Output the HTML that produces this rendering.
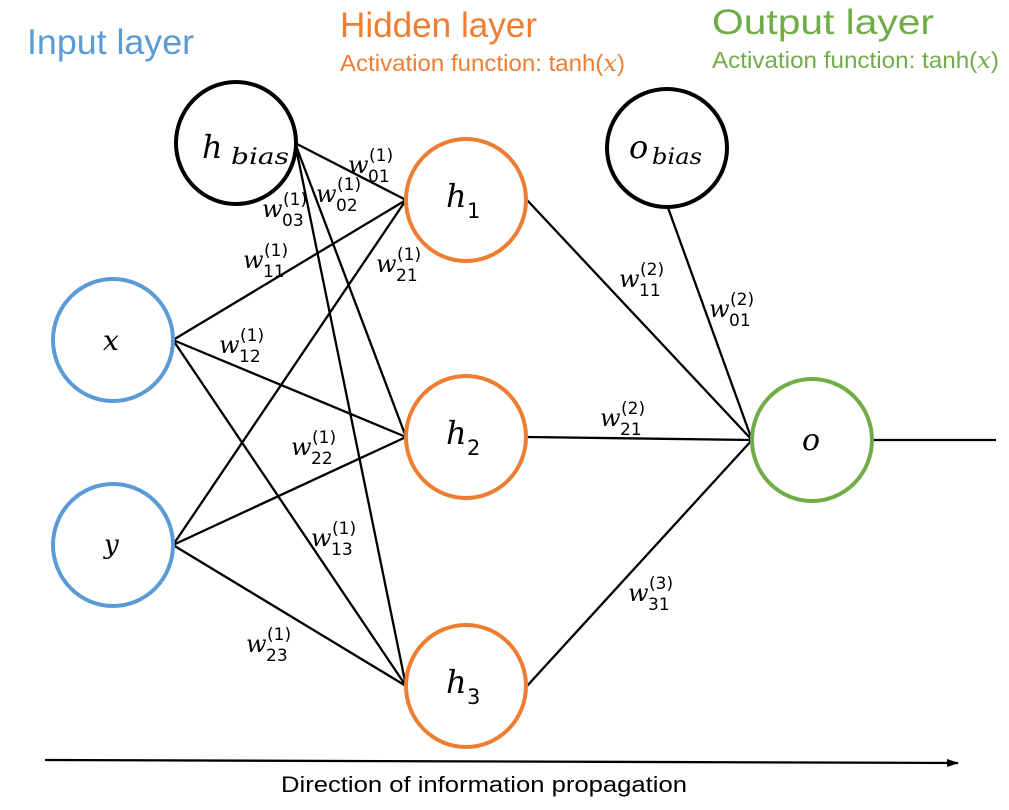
<!DOCTYPE html>
<html><head><meta charset="utf-8"><style>
html,body{margin:0;padding:0;background:#fff;}
svg{display:block;}
.t{font-family:"Liberation Sans",sans-serif;}
.m{font-family:"DejaVu Serif","Liberation Serif",serif;font-style:italic;}
.n{font-family:"DejaVu Sans","Liberation Sans",sans-serif;}
</style></head><body>
<svg width="1009" height="810" viewBox="0 0 1009 810" xmlns="http://www.w3.org/2000/svg">
<defs><marker id="ah" markerWidth="12" markerHeight="8" refX="11" refY="4" orient="auto" markerUnits="userSpaceOnUse"><path d="M0,0 L12,4 L0,8 z" fill="#000"/></marker></defs>
<text class="t" x="27" y="54" font-size="35" fill="#5b9bd5" textLength="167" lengthAdjust="spacingAndGlyphs">Input layer</text>
<text class="t" x="340" y="37" font-size="35" fill="#ed7d31" textLength="197" lengthAdjust="spacingAndGlyphs">Hidden layer</text>
<text class="t" x="340" y="71" font-size="23" fill="#ed7d31" textLength="285" lengthAdjust="spacingAndGlyphs">Activation function: tanh(<tspan class="m">x</tspan>)</text>
<text class="t" x="712" y="34" font-size="35" fill="#70ad47" textLength="222" lengthAdjust="spacingAndGlyphs">Output layer</text>
<text class="t" x="712" y="68" font-size="23" fill="#70ad47" textLength="287" lengthAdjust="spacingAndGlyphs">Activation function: tanh(<tspan class="m">x</tspan>)</text>
<g stroke="#000" stroke-width="2.3" fill="none">
<line x1="295" y1="143" x2="406" y2="200"/>
<line x1="295" y1="143" x2="406" y2="437"/>
<line x1="295" y1="143" x2="406" y2="686"/>
<line x1="173" y1="340" x2="406" y2="200"/>
<line x1="173" y1="340" x2="406" y2="437"/>
<line x1="173" y1="340" x2="406" y2="686"/>
<line x1="173" y1="545" x2="406" y2="200"/>
<line x1="173" y1="545" x2="406" y2="437"/>
<line x1="173" y1="545" x2="406" y2="686"/>
<line x1="527" y1="200" x2="752" y2="440"/>
<line x1="527" y1="437" x2="752" y2="440"/>
<line x1="527" y1="686" x2="752" y2="440"/>
<line x1="667" y1="205" x2="752" y2="440"/>
<line x1="872" y1="440" x2="996" y2="440"/>
<line x1="45" y1="760" x2="958" y2="763" marker-end="url(#ah)"/>
</g>
<g fill="#fff" stroke-width="4">
<ellipse cx="236" cy="143" rx="60" ry="61" stroke="#000"/>
<ellipse cx="667" cy="148" rx="60" ry="59" stroke="#000"/>
<ellipse cx="113" cy="340" rx="60" ry="61" stroke="#5b9bd5"/>
<ellipse cx="113" cy="545" rx="60" ry="61" stroke="#5b9bd5"/>
<ellipse cx="466" cy="200" rx="60" ry="61" stroke="#ed7d31"/>
<ellipse cx="466" cy="437" rx="60" ry="61" stroke="#ed7d31"/>
<ellipse cx="466" cy="686" rx="60" ry="61" stroke="#ed7d31"/>
<ellipse cx="812" cy="440" rx="60" ry="61" stroke="#70ad47"/>
</g>
<text class="m" x="202" y="158" font-size="32">h</text><text class="m" x="231" y="164" font-size="22" textLength="58" lengthAdjust="spacingAndGlyphs">bias</text>
<text class="m" x="629" y="158" font-size="32">o</text><text class="m" x="652" y="164" font-size="22" textLength="50" lengthAdjust="spacingAndGlyphs">bias</text>
<text class="m" x="103" y="350" font-size="28">x</text>
<text class="m" x="104" y="553" font-size="26">y</text>
<text class="m" x="446" y="207" font-size="32">h</text><text class="n" x="467" y="218" font-size="21">1</text>
<text class="m" x="446" y="444" font-size="32">h</text><text class="n" x="467" y="455" font-size="21">2</text>
<text class="m" x="446" y="693" font-size="32">h</text><text class="n" x="467" y="704" font-size="21">3</text>
<text class="m" x="802" y="450" font-size="30">o</text>
<g font-size="24">
<g transform="translate(348,173)"><text class="m" x="0" y="0">w</text><text class="n" x="21" y="-12" font-size="17">(1)</text><text class="n" x="20" y="9" font-size="17">01</text></g>
<g transform="translate(316,202)"><text class="m" x="0" y="0">w</text><text class="n" x="21" y="-12" font-size="17">(1)</text><text class="n" x="20" y="9" font-size="17">02</text></g>
<g transform="translate(262,217)"><text class="m" x="0" y="0">w</text><text class="n" x="21" y="-12" font-size="17">(1)</text><text class="n" x="20" y="9" font-size="17">03</text></g>
<g transform="translate(243,268)"><text class="m" x="0" y="0">w</text><text class="n" x="21" y="-12" font-size="17">(1)</text><text class="n" x="20" y="9" font-size="17">11</text></g>
<g transform="translate(376,272)"><text class="m" x="0" y="0">w</text><text class="n" x="21" y="-12" font-size="17">(1)</text><text class="n" x="20" y="9" font-size="17">21</text></g>
<g transform="translate(219,353)"><text class="m" x="0" y="0">w</text><text class="n" x="21" y="-12" font-size="17">(1)</text><text class="n" x="20" y="9" font-size="17">12</text></g>
<g transform="translate(291,455)"><text class="m" x="0" y="0">w</text><text class="n" x="21" y="-12" font-size="17">(1)</text><text class="n" x="20" y="9" font-size="17">22</text></g>
<g transform="translate(311,546)"><text class="m" x="0" y="0">w</text><text class="n" x="21" y="-12" font-size="17">(1)</text><text class="n" x="20" y="9" font-size="17">13</text></g>
<g transform="translate(246,652)"><text class="m" x="0" y="0">w</text><text class="n" x="21" y="-12" font-size="17">(1)</text><text class="n" x="20" y="9" font-size="17">23</text></g>
<g transform="translate(619,287)"><text class="m" x="0" y="0">w</text><text class="n" x="21" y="-12" font-size="17">(2)</text><text class="n" x="20" y="9" font-size="17">11</text></g>
<g transform="translate(709,317)"><text class="m" x="0" y="0">w</text><text class="n" x="21" y="-12" font-size="17">(2)</text><text class="n" x="20" y="9" font-size="17">01</text></g>
<g transform="translate(600,426)"><text class="m" x="0" y="0">w</text><text class="n" x="21" y="-12" font-size="17">(2)</text><text class="n" x="20" y="9" font-size="17">21</text></g>
<g transform="translate(628,601)"><text class="m" x="0" y="0">w</text><text class="n" x="21" y="-12" font-size="17">(3)</text><text class="n" x="20" y="9" font-size="17">31</text></g>
</g>
<text class="t" x="281" y="792" font-size="22" fill="#000" textLength="406" lengthAdjust="spacingAndGlyphs">Direction of information propagation</text>
</svg>
</body></html>
